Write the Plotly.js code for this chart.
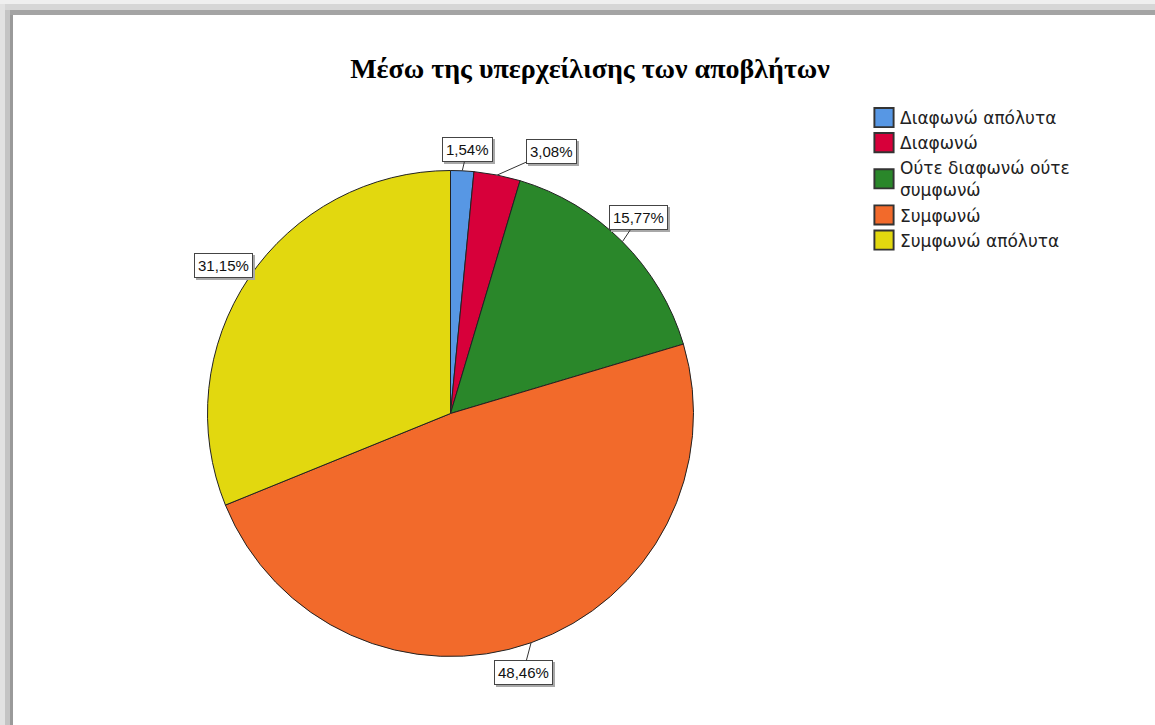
<!DOCTYPE html>
<html><head><meta charset="utf-8">
<script src="https://cdn.plot.ly/plotly-3.0.1.min.js"></script>
<style>body{margin:0;background:#fff}#chart{width:1155px;height:725px}</style>
</head><body><div id="chart"></div>
<script>
const categories = ['Διαφωνώ απόλυτα', 'Διαφωνώ', 'Ούτε διαφωνώ ούτε<br>συμφωνώ', 'Συμφωνώ', 'Συμφωνώ απόλυτα'];
const values = [1.54, 3.08, 15.77, 48.46, 31.15];
const colors = ['#5797E4', '#D7003A', '#2A872A', '#F26A2B', '#E2D80F'];
const percentLabels = values.map(v => v.toFixed(2).replace('.', ',') + '%');

const W = 1155, H = 725, CX = 450.5, CY = 413.5, R = 243;
const labelOffsets = [[5, -21], [54, -24], [16, -24], [-8, 30], [-25, -12]];
const total = values.reduce((a, b) => a + b, 0);
let cum = 0;
const annotations = [];
values.forEach((v, i) => {
  const mid = (cum + v / 2) / total * 2 * Math.PI;
  cum += v;
  const tx = CX + R * Math.sin(mid), ty = CY - R * Math.cos(mid);
  const base = {
    xref: 'paper', yref: 'paper', x: tx / W, y: 1 - ty / H,
    text: percentLabels[i], showarrow: true, arrowhead: 0, arrowwidth: 1,
    borderwidth: 1, borderpad: 3,
    font: {family: 'Liberation Sans, Arial, sans-serif', size: 15, color: '#111'}
  };
  annotations.push(Object.assign({}, base, {
    ax: labelOffsets[i][0] + 2, ay: labelOffsets[i][1] + 2,
    arrowcolor: 'rgba(0,0,0,0)', bgcolor: '#a8a8a8', bordercolor: '#a8a8a8',
    font: Object.assign({}, base.font, {color: 'rgba(0,0,0,0)'})
  }));
  annotations.push(Object.assign({}, base, {
    ax: labelOffsets[i][0], ay: labelOffsets[i][1],
    arrowcolor: '#333', bgcolor: '#fff', bordercolor: '#444'
  }));
});

const frame = [
  [0, 0, 5, H, '#e2e2e2'], [5, 0, 10, H, '#c4c4c4'], [10, 0, 13, H, '#9a9a9a'],
  [0, 0, W, 4, '#efefef'], [5, 4, W, 10, '#d6d6d6'], [10, 10, W, 15, '#a4a4a4']
];
const shapes = frame.map(f => ({
  type: 'rect', xref: 'paper', yref: 'paper', layer: 'below',
  x0: f[0] / W, x1: f[2] / W, y0: 1 - f[1] / H, y1: 1 - f[3] / H,
  fillcolor: f[4], line: {width: 0}
}));

const trace = {
  type: 'pie', labels: categories, values: values, sort: false,
  direction: 'clockwise', rotation: 0, textinfo: 'none', hoverinfo: 'label+percent',
  marker: {colors: colors, line: {color: '#222', width: 1}},
  domain: {x: [(CX - R) / W, (CX + R) / W], y: [1 - (CY + R) / H, 1 - (CY - R) / H]}
};

const layout = {
  width: W, height: H, margin: {l: 0, r: 0, t: 0, b: 0},
  paper_bgcolor: '#fff',
  title: {text: '<b>Μέσω της υπερχείλισης των αποβλήτων</b>', x: 590 / W, y: 1 - 68 / H,
    xanchor: 'center', yanchor: 'middle',
    font: {family: 'Liberation Serif, Times New Roman, serif', size: 28, color: '#000'}},
  showlegend: true,
  legend: {x: 860 / W, y: 1 - 100 / H, xanchor: 'left', yanchor: 'top',
    font: {family: 'DejaVu Sans, sans-serif', size: 17, color: '#222'}, traceorder: 'normal'},
  annotations: annotations, shapes: shapes
};
Plotly.newPlot('chart', [trace], layout, {displayModeBar: false}).then(gd => {
  gd.querySelectorAll('.legend .legendpoints path').forEach(p => {
    p.setAttribute('transform', 'translate(24,0) scale(1.6)');
    p.style.strokeWidth = '1.2px';
    p.style.stroke = '#333';
  });
});
</script></body></html>
